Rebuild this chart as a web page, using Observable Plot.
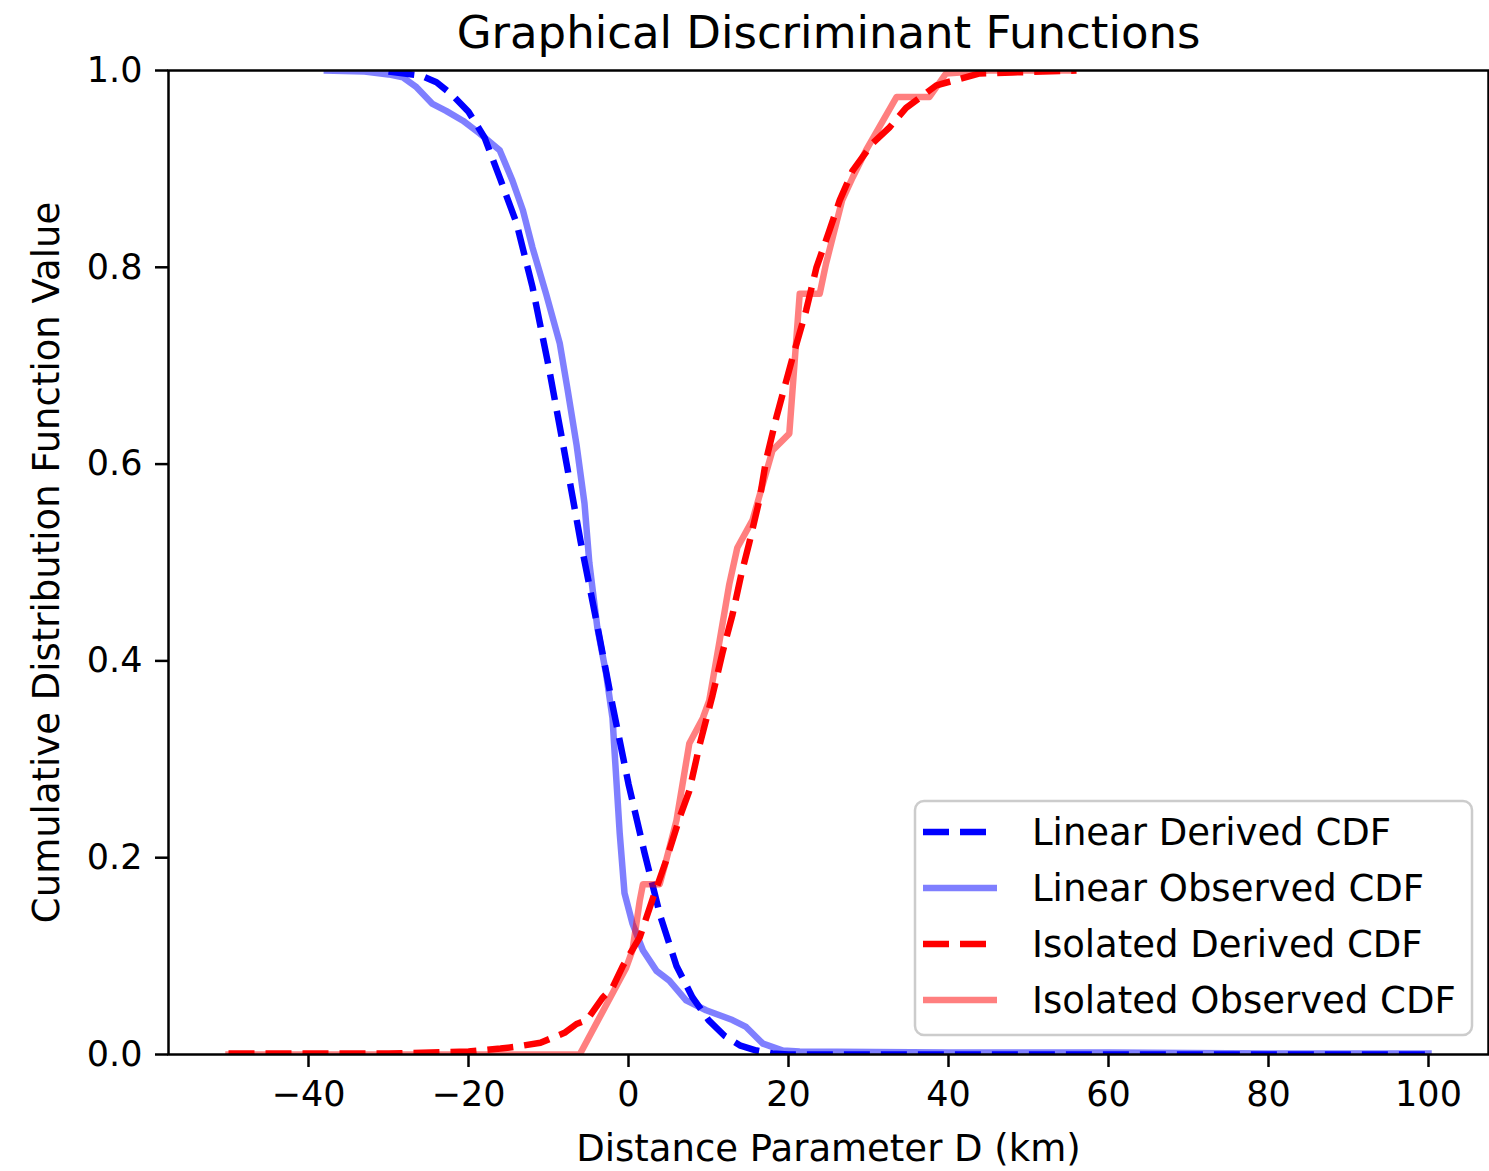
<!DOCTYPE html>
<html><head><meta charset="utf-8">
<script src="https://cdn.jsdelivr.net/npm/d3@7"></script>
<script src="https://cdn.jsdelivr.net/npm/@observablehq/plot@0.6"></script>
<style>body{margin:0;background:#fff}#chart{width:1489px;height:1171px}</style>
</head><body><div id="chart"></div>
<script>
// ---- data ----
const xTicks = [-40, -20, 0, 20, 40, 60, 80, 100];
const yTicks = [0, 0.2, 0.4, 0.6, 0.8, 1.0];
const seriesNames = ["Linear Derived CDF", "Linear Observed CDF", "Isolated Derived CDF", "Isolated Observed CDF"];

const linDerivedD = [-30,-28,-26,-24,-22,-20,-18,-16,-14,-12,-10,-8,-6,-4,-2,0,2,4,6,8,10,12,14,16,18,20,30,40,60,80,100];
const linDerivedV = [0.999,0.997,0.995,0.988,0.975,0.958,0.932,0.889,0.845,0.78,0.70,0.612,0.522,0.44,0.355,0.275,0.205,0.14,0.09,0.058,0.035,0.019,0.009,0.004,0.001,0,0,0,0,0,0];

const linObservedD = [-37.7,-33,-30,-28.2,-26.5,-24.5,-22.8,-20.7,-18.6,-16.1,-14.5,-13.2,-12,-10.3,-8.6,-7.6,-6.5,-5.5,-4.9,-3.9,-2.8,-2,-1.75,-1.1,-0.5,0.5,1.8,3.5,5.1,7.2,9.7,13,14.7,16.8,19.3,21.4,40,60,80,100];
const linObservedV = [1.0,0.999,0.996,0.993,0.983,0.966,0.959,0.949,0.936,0.919,0.888,0.858,0.82,0.773,0.723,0.675,0.62,0.56,0.50,0.434,0.387,0.342,0.309,0.225,0.164,0.133,0.106,0.085,0.075,0.055,0.045,0.035,0.028,0.011,0.004,0.003,0.002,0.002,0.001,0.001];

const isoDerivedD = [-50,-40,-30,-20,-16,-14,-11,-8,-6.5,-5.2,-3.2,-2,-0.7,1.4,3.1,4.7,6.4,7.6,8.9,10.5,11.8,13,14.1,15.1,16.4,17.2,18.5,19.3,20.5,22.2,23.5,25.1,26.4,28,30.5,32.6,34.7,38.5,43.9,48,56];
const isoDerivedV = [0.001,0.001,0.001,0.003,0.006,0.008,0.012,0.022,0.031,0.035,0.058,0.068,0.09,0.119,0.16,0.197,0.241,0.268,0.315,0.365,0.41,0.447,0.488,0.52,0.565,0.604,0.648,0.672,0.708,0.756,0.8,0.837,0.868,0.898,0.926,0.942,0.962,0.985,0.997,0.998,1.0];

const isoObservedD = [-50,-6.1,-0.3,0.5,1.4,1.8,3.9,4.7,6,7.6,9.3,10.1,11.4,12.6,13.6,15.5,18,20.1,21.4,23.9,24.7,26.7,28,29.7,33.5,37.6,39.7,45,55];
const isoObservedV = [0,0,0.088,0.106,0.156,0.173,0.173,0.197,0.238,0.316,0.342,0.36,0.421,0.478,0.515,0.543,0.614,0.631,0.773,0.773,0.804,0.868,0.891,0.919,0.973,0.973,0.997,1.0,1.0];

// ---- build tables ----
const toRows = (D, V) => D.map((d, i) => ({D: d, v: V[i]}));
const linDer = toRows(linDerivedD, linDerivedV);
const linObs = toRows(linObservedD, linObservedV);
const isoDer = toRows(isoDerivedD, isoDerivedV);
const isoObs = toRows(isoObservedD, isoObservedV);

const W = 1489, H = 1171;
const mL = 168, mR = 1, mT = 70, mB = 117;
const LW = 6.5, DASH = "26,11";
const font = "DejaVu Sans";
const fmtX = d => d < 0 ? "\u2212" + (-d) : String(d);

const plot = Plot.plot({
  width: W, height: H,
  marginLeft: mL, marginRight: mR, marginTop: mT, marginBottom: mB,
  style: {fontFamily: font, color: "#000", background: "#fff", overflow: "visible"},
  x: {domain: [-57.5, 107.5]},
  y: {domain: [0, 1]},
  marks: [
    Plot.line(linDer, {x: "D", y: "v", stroke: "#0000ff", strokeWidth: LW, strokeDasharray: DASH, strokeLinecap: "butt", strokeLinejoin: "round", clip: true}),
    Plot.line(linObs, {x: "D", y: "v", stroke: "#0000ff", strokeOpacity: 0.5, strokeWidth: LW, strokeLinecap: "square", strokeLinejoin: "round", clip: true}),
    Plot.line(isoDer, {x: "D", y: "v", stroke: "#ff0000", strokeWidth: LW, strokeDasharray: DASH, strokeLinecap: "butt", strokeLinejoin: "round", clip: true}),
    Plot.line(isoObs, {x: "D", y: "v", stroke: "#ff0000", strokeOpacity: 0.5, strokeWidth: LW, strokeLinecap: "square", strokeLinejoin: "round", clip: true}),
    Plot.frame({stroke: "#000", strokeWidth: 2.5}),
    Plot.axisX({ticks: xTicks, tickFormat: fmtX, tickSize: 13, tickPadding: 14, fontSize: 35, strokeWidth: 2.5, label: null}),
    Plot.axisY({ticks: yTicks, tickFormat: d => d.toFixed(1), tickSize: 13, tickPadding: 13, fontSize: 35, strokeWidth: 2.5, label: null}),
    Plot.text(["Graphical Discriminant Functions"], {frameAnchor: "top", lineAnchor: "bottom", textAnchor: "middle", dy: -23, fontSize: 45, fill: "#000"}),
    Plot.text(["Distance Parameter D (km)"], {frameAnchor: "bottom", lineAnchor: "bottom", textAnchor: "middle", dy: 106, fontSize: 37, fill: "#000"}),
    Plot.text(["Cumulative Distribution Function Value"], {frameAnchor: "left", lineAnchor: "bottom", textAnchor: "middle", rotate: -90, dx: -110, fontSize: 37, fill: "#000"})
  ]
});

// ---- legend (layout drawn inside the same SVG) ----
const svg = d3.select(plot);
const lg = svg.append("g").attr("font-family", font).attr("font-size", 37).attr("text-anchor", "start");
lg.append("rect").attr("x", 915).attr("y", 801).attr("width", 557).attr("height", 234)
  .attr("rx", 9).attr("fill", "#fff").attr("fill-opacity", 0.8).attr("stroke", "#cccccc").attr("stroke-width", 2.5);
const legendStyles = [
  {color: "#0000ff", opacity: 1, dash: DASH},
  {color: "#0000ff", opacity: 0.5, dash: null},
  {color: "#ff0000", opacity: 1, dash: DASH},
  {color: "#ff0000", opacity: 0.5, dash: null}
];
seriesNames.forEach((name, i) => {
  const y = 832 + i * 56;
  const s = legendStyles[i];
  const ln = lg.append("line").attr("x1", 923).attr("x2", 997).attr("y1", y).attr("y2", y)
    .attr("stroke", s.color).attr("stroke-opacity", s.opacity).attr("stroke-width", LW)
    .attr("stroke-linecap", "butt");
  if (s.dash) ln.attr("stroke-dasharray", s.dash);
  lg.append("text").attr("x", 1032).attr("y", y).attr("dy", "0.36em").attr("text-anchor", "start").attr("fill", "#000").text(name);
});

document.getElementById("chart").appendChild(plot);
</script></body></html>
